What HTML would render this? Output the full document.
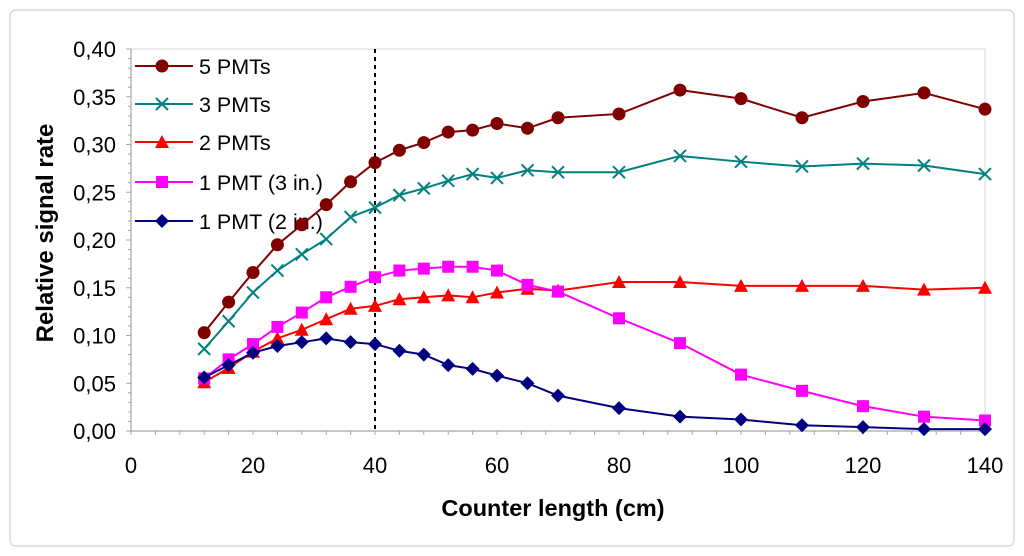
<!DOCTYPE html>
<html><head><meta charset="utf-8"><style>
html,body{margin:0;padding:0;background:#fff;}
svg{display:block;font-family:"Liberation Sans",Arial,sans-serif;}
</style></head><body>
<svg id="chart" width="1024" height="556">
<rect x="10" y="10" width="1004" height="536" rx="6" fill="#fff" stroke="#d9d9d9" stroke-width="1.5"/>
<g id="grid"></g>
<g id="legend"></g>
<g id="series"></g>
<text x="553" y="516" text-anchor="middle" font-size="23.5" font-weight="bold" fill="#000">Counter length (cm)</text>
<text transform="translate(53,233) rotate(-90)" text-anchor="middle" font-size="24" font-weight="bold" fill="#000">Relative signal rate</text>
</svg>
<script>
const xValues=[12,16,20,24,28,32,36,40,44,48,52,56,60,65,70,80,90,100,110,120,130,140];
const pmt5=[0.103,0.135,0.166,0.195,0.216,0.237,0.261,0.281,0.294,0.302,0.313,0.315,0.322,0.317,0.328,0.332,0.357,0.348,0.328,0.345,0.354,0.337];
const pmt3=[0.086,0.115,0.145,0.168,0.185,0.201,0.224,0.234,0.247,0.254,0.262,0.269,0.265,0.273,0.271,0.271,0.288,0.282,0.277,0.280,0.278,0.269];
const pmt2=[0.051,0.066,0.083,0.097,0.106,0.117,0.128,0.131,0.138,0.140,0.142,0.140,0.145,0.149,0.147,0.156,0.156,0.152,0.152,0.152,0.148,0.150];
const pmt1in3=[0.055,0.075,0.091,0.109,0.124,0.140,0.151,0.161,0.168,0.170,0.172,0.172,0.168,0.153,0.146,0.118,0.092,0.059,0.042,0.026,0.015,0.011];
const pmt1in2=[0.056,0.069,0.082,0.089,0.093,0.097,0.093,0.091,0.084,0.080,0.069,0.065,0.058,0.050,0.037,0.024,0.015,0.012,0.006,0.004,0.002,0.002];
const xTicks=[0,20,40,60,80,100,120,140];
const yTicks=["0,00","0,05","0,10","0,15","0,20","0,25","0,30","0,35","0,40"];
const seriesNames=["5 PMTs","3 PMTs","2 PMTs","1 PMT (3 in.)","1 PMT (2 in.)"];
const NS="http://www.w3.org/2000/svg";
const X0=131,X1=985,Y0=431,Y1=49;
const sx=v=>X0+(v/140)*(X1-X0);
const sy=v=>Y0-(v/0.40)*(Y0-Y1);
function mk(tag,attrs,parent){const e=document.createElementNS(NS,tag);for(const k in attrs)e.setAttribute(k,attrs[k]);parent.appendChild(e);return e;}
const grid=document.getElementById('grid');
mk('rect',{x:X0,y:Y1,width:X1-X0,height:Y0-Y1,fill:'none',stroke:'#d9d9d9','stroke-width':1},grid);
const yAxis=mk('line',{x1:X0,y1:Y1,x2:X0,y2:Y0,stroke:'#a6a6a6','stroke-width':1.2},grid);


const xAxis=mk('line',{x1:X0,y1:Y0,x2:X1,y2:Y0,stroke:'#a6a6a6','stroke-width':1.2},grid);


for(let i=0;i<=40;i++){const y=sy(i*0.01);mk('line',{x1:X0-(i%5?3:5),y1:y,x2:X0,y2:y,stroke:'#a6a6a6'},grid);}
for(let v=0;v<=140;v+=4){const x=sx(v);mk('line',{x1:x,y1:Y0,x2:x,y2:Y0+4,stroke:'#a6a6a6'},grid);}
yTicks.forEach((t,i)=>{const e=mk('text',{x:116,y:sy(i*0.05)+8,'text-anchor':'end','font-size':22,fill:'#000'},grid);e.textContent=t;

});
xTicks.forEach(t=>{const e=mk('text',{x:sx(t),y:473,'text-anchor':'middle','font-size':22,fill:'#000'},grid);e.textContent=t;

});
const ref=mk('line',{x1:sx(40),y1:Y1,x2:sx(40),y2:Y0,stroke:'#000','stroke-width':2,'stroke-dasharray':'4,4'},grid);


const colors=['#800000','#008080','#ff0000','#ff00ff','#000080'];
const shapes=['circle','x','triangle','square','diamond'];
const data=[pmt5,pmt3,pmt2,pmt1in3,pmt1in2];
function marker(shape,x,y,c,p){
 if(shape==='circle')return mk('circle',{cx:x,cy:y,r:6.5,fill:c},p);
 if(shape==='square')return mk('rect',{x:x-6,y:y-6,width:12,height:12,fill:c},p);
 if(shape==='triangle')return mk('path',{d:`M${x},${y-7}L${x+7},${y+6}L${x-7},${y+6}Z`,fill:c},p);
 if(shape==='diamond')return mk('path',{d:`M${x},${y-7}L${x+7},${y}L${x},${y+7}L${x-7},${y}Z`,fill:c},p);
 return mk('path',{d:`M${x-6},${y-6}L${x+6},${y+6}M${x+6},${y-6}L${x-6},${y+6}`,stroke:c,'stroke-width':2,fill:'none'},p);
}
const sg=document.getElementById('series');
data.forEach((arr,si)=>{
 const g=mk('g',{},sg);
 
 
 const pts=arr.map((v,i)=>sx(xValues[i])+','+sy(v)).join(' ');
 mk('polyline',{points:pts,fill:'none',stroke:colors[si],'stroke-width':2},g);
 arr.forEach((v,i)=>{const m=marker(shapes[si],sx(xValues[i]),sy(v),colors[si],g);
 
 });
});
const lg=document.getElementById('legend');
const rows=[66,104,142,182,221];
seriesNames.forEach((n,i)=>{
 const g=mk('g',{},lg);
 
 
 mk('line',{x1:135,y1:rows[i],x2:193,y2:rows[i],stroke:colors[i],'stroke-width':2},g);
 marker(shapes[i],162,rows[i],colors[i],g);
 const t=mk('text',{x:199,y:rows[i]+8,'font-size':21.5,fill:'#000'},g);t.textContent=n;
});
</script>
</body></html>
